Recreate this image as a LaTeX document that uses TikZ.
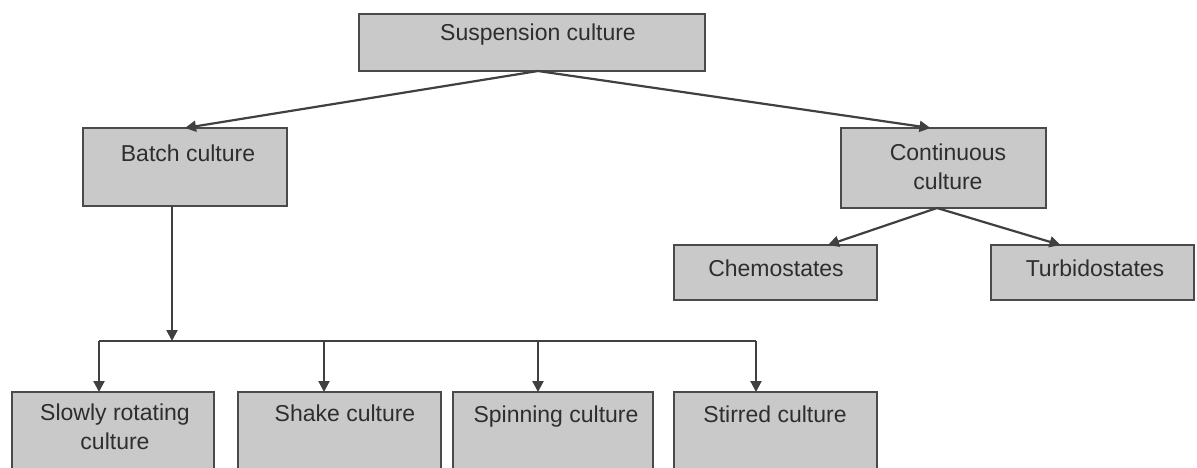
\documentclass[tikz,border=0pt]{standalone}
\usepackage{fontspec}
\setmainfont{Liberation Sans}
\usetikzlibrary{arrows.meta}
\definecolor{boxfill}{HTML}{C9C9C9}
\definecolor{boxline}{HTML}{4A4A4A}
\definecolor{txt}{HTML}{2E2E2E}
\definecolor{conn}{HTML}{404040}
\begin{document}
\begin{tikzpicture}[x=1pt,y=-1pt,
  box/.style={draw=boxline,fill=boxfill,line width=2.4pt,rectangle,inner sep=0pt,outer sep=0pt},
  lbl/.style={text=txt,font=\fontsize{23}{29}\selectfont,align=center,inner sep=0pt},
  conline/.style={draw=conn,line width=2.2pt},
  arr/.style={conline,-{Triangle[length=11pt,width=11pt]}}]
\useasboundingbox (0,0) rectangle (1197,467);
\clip (0,0) rectangle (1197,467);
\fill[white] (0,0) rectangle (1197,467);
% boxes
\node[box,minimum width=346pt,minimum height=57pt] (top) at (532,42.5) {};
\node[box,minimum width=204pt,minimum height=78pt] (batch) at (185,167) {};
\node[box,minimum width=205pt,minimum height=80pt] (cont) at (943.5,168) {};
\node[box,minimum width=203pt,minimum height=55pt] (chemo) at (775.5,272.5) {};
\node[box,minimum width=203pt,minimum height=55pt] (turb) at (1092.5,272.5) {};
\node[box,minimum width=202pt,minimum height=100pt] (slow) at (113,442) {};
\node[box,minimum width=203pt,minimum height=100pt] (shake) at (339.5,442) {};
\node[box,minimum width=200pt,minimum height=100pt] (spin) at (553,442) {};
\node[box,minimum width=203pt,minimum height=100pt] (stir) at (775.5,442) {};
% labels
\node[lbl] (tTop) at (538,35) {Suspension culture};
\node[lbl] (tBatch) at (188,153) {Batch culture};
\node[lbl] (tCont) at (948,167) {Continuous\\culture};
\node[lbl] (tChemo) at (776,268) {Chemostates};
\node[lbl] (tTurb) at (1095,268) {Turbidostates};
\node[lbl] (tSlow) at (115,427) {Slowly rotating\\culture};
\node[lbl] (tShake) at (345,413) {Shake culture};
\node[lbl] (tSpin) at (556,417) {Spinning culture};
\node[lbl] (tStir) at (775,414) {Stirred culture};
% connectors
\coordinate (busL) at (99,341);
\coordinate (busR) at (756,341);
\draw[arr] ([xshift=6pt]top.south) -- (batch.north);
\draw[arr] ([xshift=6pt]top.south) -- ([xshift=-13pt]cont.north);
\draw[arr] ([xshift=-6.5pt]cont.south) -- ([xshift=52.5pt]chemo.north);
\draw[arr] ([xshift=-6.5pt]cont.south) -- ([xshift=-32pt]turb.north);
\draw[arr] ([xshift=-13pt]batch.south) -- ([xshift=-13pt]batch.south |- busL);
\draw[conline] (busL) -- (busR);
\draw[arr] (busL) -- (busL |- slow.north);
\draw[arr] ([xshift=-15.5pt]shake.north |- busL) -- ([xshift=-15.5pt]shake.north);
\draw[arr] ([xshift=-15pt]spin.north |- busL) -- ([xshift=-15pt]spin.north);
\draw[arr] (busR) -- (busR |- stir.north);
\end{tikzpicture}
\end{document}
